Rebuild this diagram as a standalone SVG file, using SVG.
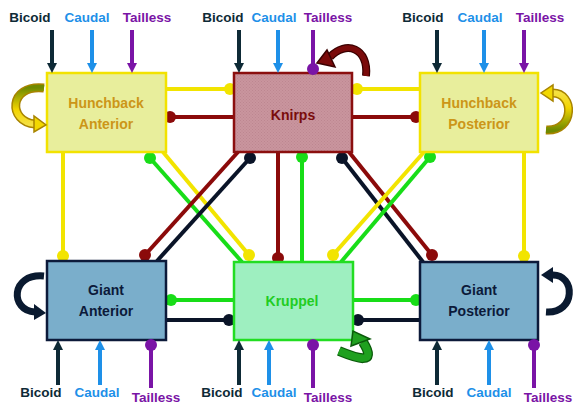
<svg xmlns="http://www.w3.org/2000/svg" width="576" height="405" viewBox="0 0 576 405">
  <style>
    .lbl { font-family: "Liberation Sans", Arial, sans-serif; font-weight: bold; font-size: 13.5px; text-anchor: middle; }
    .lbl.bic { fill: #0e2a36; }
    .lbl.cau { fill: #1e90e8; }
    .lbl.tai { fill: #7a14a6; }
    .name { font-family: "Liberation Sans", Arial, sans-serif; font-weight: bold; font-size: 14px; text-anchor: middle; }
    .hb rect { fill: #e8ee9c; stroke: #f2e200; stroke-width: 2.5; }
    .hb .name { fill: #cc9618; }
    .kni rect { fill: url(#hatch); stroke: #8b0f0f; stroke-width: 2.5; }
    .kni .name { fill: #7a0c0c; }
    .gia rect { fill: #7aaecb; stroke: #0c1a3a; stroke-width: 2.5; }
    .gia .name { fill: #0c1a3a; }
    .kru rect { fill: #9eefc0; stroke: #22dd22; stroke-width: 2.5; }
    .kru .name { fill: #22cc22; }
    .ln { fill: none; stroke-width: 4; }
    .y { stroke: #f2e400; } .yf { fill: #f2e400; }
    .r { stroke: #8b0a0a; } .rf { fill: #8b0a0a; }
    .n { stroke: #0a1428; } .nf { fill: #0a1428; }
    .g { stroke: #18dd18; } .gf { fill: #18dd18; }
    .in { fill: none; stroke-width: 4; }
    .sb { stroke: #0e2a36; } .sc { stroke: #1e90e8; } .st { stroke: #7a14a6; }
  </style>
  <defs>
    <pattern id="hatch" width="3" height="3" patternUnits="userSpaceOnUse">
      <rect width="3" height="3" fill="#c9959e"/>
      <rect width="1" height="1" fill="#bd8690"/>
      <rect x="1.5" y="1.5" width="1" height="1" fill="#bd8690"/>
    </pattern>
    <marker id="mB" viewBox="0 0 10 10" refX="0" refY="5" markerWidth="10" markerHeight="10" markerUnits="userSpaceOnUse" orient="auto">
      <path d="M0,0 L10,5 L0,10 z" fill="#0e2a36"/>
    </marker>
    <marker id="mC" viewBox="0 0 10 10" refX="0" refY="5" markerWidth="10" markerHeight="10" markerUnits="userSpaceOnUse" orient="auto">
      <path d="M0,0 L10,5 L0,10 z" fill="#1e90e8"/>
    </marker>
    <marker id="mT" viewBox="0 0 10 10" refX="0" refY="5" markerWidth="10" markerHeight="10" markerUnits="userSpaceOnUse" orient="auto">
      <path d="M0,0 L10,5 L0,10 z" fill="#7a14a6"/>
    </marker>
    <linearGradient id="gYdown" x1="0" y1="0" x2="0" y2="1">
      <stop offset="0" stop-color="#6f8a00"/>
      <stop offset="0.6" stop-color="#f2d400"/>
      <stop offset="1" stop-color="#f5e040"/>
    </linearGradient>
    <linearGradient id="gYup" x1="0" y1="0" x2="0" y2="1">
      <stop offset="0" stop-color="#f5e040"/>
      <stop offset="0.4" stop-color="#f2d400"/>
      <stop offset="1" stop-color="#6f8a00"/>
    </linearGradient>
  </defs>

  <rect width="576" height="405" fill="#ffffff"/>

  <!-- regulatory connectors between genes -->
  <g id="connectors">
    <!-- Hunchback Anterior <-> Knirps -->
    <line class="ln y" x1="166" y1="89" x2="230" y2="89"/>
    <circle class="yf" cx="230" cy="89" r="6"/>
    <line class="ln r" x1="170" y1="117" x2="234" y2="117"/>
    <circle class="rf" cx="170" cy="117" r="6"/>
    <!-- Hunchback Posterior <-> Knirps -->
    <line class="ln y" x1="357" y1="89" x2="420" y2="89"/>
    <circle class="yf" cx="357" cy="89" r="6"/>
    <line class="ln r" x1="352" y1="117" x2="416" y2="117"/>
    <circle class="rf" cx="416" cy="117" r="6"/>
    <!-- Hunchback -> Giant verticals -->
    <line class="ln y" x1="63" y1="152" x2="63" y2="256"/>
    <circle class="yf" cx="63" cy="256" r="6"/>
    <line class="ln y" x1="524" y1="152" x2="524" y2="256"/>
    <circle class="yf" cx="524" cy="256" r="6"/>
    <!-- left cross -->
    <line class="ln y" x1="163" y1="152" x2="249" y2="255"/>
    <circle class="yf" cx="249" cy="255" r="6"/>
    <line class="ln g" x1="150" y1="158" x2="242" y2="262"/>
    <circle class="gf" cx="150" cy="158" r="6"/>
    <line class="ln r" x1="238" y1="152" x2="145" y2="255"/>
    <circle class="rf" cx="145" cy="255" r="6"/>
    <line class="ln n" x1="250" y1="158" x2="157" y2="261"/>
    <circle class="nf" cx="250" cy="158" r="6"/>
    <!-- Knirps <-> Kruppel -->
    <line class="ln r" x1="278" y1="152" x2="278" y2="258"/>
    <circle class="rf" cx="278" cy="258" r="6"/>
    <line class="ln g" x1="302" y1="157" x2="302" y2="262"/>
    <circle class="gf" cx="302" cy="157" r="6"/>
    <!-- right cross -->
    <line class="ln r" x1="349" y1="152" x2="432" y2="255"/>
    <circle class="rf" cx="432" cy="255" r="6"/>
    <line class="ln n" x1="342" y1="158" x2="423" y2="262"/>
    <circle class="nf" cx="342" cy="158" r="6"/>
    <line class="ln y" x1="424" y1="152" x2="333" y2="255"/>
    <circle class="yf" cx="333" cy="255" r="6"/>
    <line class="ln g" x1="430" y1="157" x2="341" y2="262"/>
    <circle class="gf" cx="430" cy="157" r="6"/>
    <!-- Giant <-> Kruppel horizontals -->
    <line class="ln g" x1="171" y1="300" x2="234" y2="300"/>
    <circle class="gf" cx="171" cy="300" r="6"/>
    <line class="ln n" x1="166" y1="320" x2="229" y2="320"/>
    <circle class="nf" cx="229" cy="320" r="6"/>
    <line class="ln g" x1="353" y1="300" x2="416" y2="300"/>
    <circle class="gf" cx="416" cy="300" r="6"/>
    <line class="ln n" x1="358" y1="320" x2="420" y2="320"/>
    <circle class="nf" cx="358" cy="320" r="6"/>
  </g>

  <!-- Hunchback Anterior -->
  <g id="hb-anterior" class="hb">
    <rect x="47" y="73" width="119" height="79"/>
    <text class="name" x="106" y="108">Hunchback</text>
    <text class="name" x="106" y="129">Anterior</text>
    <text class="lbl bic" x="30" y="22">Bicoid</text>
    <text class="lbl cau" x="87" y="22">Caudal</text>
    <text class="lbl tai" x="147" y="22">Tailless</text>
    <line class="in sb" x1="52" y1="30" x2="52" y2="63" marker-end="url(#mB)"/>
    <line class="in sc" x1="92" y1="30" x2="92" y2="63" marker-end="url(#mC)"/>
    <line class="in st" x1="132" y1="30" x2="132" y2="63" marker-end="url(#mT)"/>
    <path d="M44 88 C 8 84, 8 122, 35 124" fill="none" stroke="#a88400" stroke-width="9"/>
    <path d="M44 88 C 8 84, 8 122, 35 124" fill="none" stroke="url(#gYdown)" stroke-width="6"/>
    <polygon points="34,116 34,132 46,125" fill="#f2d800" stroke="#a88400" stroke-width="1.5"/>
  </g>

  <!-- Knirps -->
  <g id="knirps" class="kni">
    <rect x="234" y="73" width="118" height="79"/>
    <text class="name" x="293" y="120">Knirps</text>
    <text class="lbl bic" x="223" y="22">Bicoid</text>
    <text class="lbl cau" x="274" y="22">Caudal</text>
    <text class="lbl tai" x="328" y="22">Tailless</text>
    <line class="in sb" x1="239" y1="30" x2="239" y2="63" marker-end="url(#mB)"/>
    <line class="in sc" x1="278" y1="30" x2="278" y2="63" marker-end="url(#mC)"/>
    <line class="in st" x1="313" y1="30" x2="313" y2="69"/>
    <circle cx="313" cy="69" r="6" fill="#7a14a6"/>
    <path d="M366 76 C 369 48, 346 40, 330 57" fill="none" stroke="#3a0000" stroke-width="8"/>
    <path d="M366 76 C 369 48, 346 40, 330 57" fill="none" stroke="#7a0a0a" stroke-width="5.5"/>
    <polygon points="317,63 327,50 335,67" fill="#7a0a0a" stroke="#3a0000" stroke-width="1.5"/>
  </g>

  <!-- Hunchback Posterior -->
  <g id="hb-posterior" class="hb">
    <rect x="420" y="73" width="118" height="79"/>
    <text class="name" x="479" y="108">Hunchback</text>
    <text class="name" x="479" y="129">Posterior</text>
    <text class="lbl bic" x="423" y="22">Bicoid</text>
    <text class="lbl cau" x="480" y="22">Caudal</text>
    <text class="lbl tai" x="540" y="22">Tailless</text>
    <line class="in sb" x1="437" y1="30" x2="437" y2="63" marker-end="url(#mB)"/>
    <line class="in sc" x1="484" y1="30" x2="484" y2="63" marker-end="url(#mC)"/>
    <line class="in st" x1="524" y1="30" x2="524" y2="63" marker-end="url(#mT)"/>
    <path d="M546 130 C 575 132, 575 92, 552 93" fill="none" stroke="#a88400" stroke-width="9"/>
    <path d="M546 130 C 575 132, 575 92, 552 93" fill="none" stroke="url(#gYup)" stroke-width="6"/>
    <polygon points="553,85 553,101 541,93" fill="#f2d800" stroke="#a88400" stroke-width="1.5"/>
  </g>

  <!-- Giant Anterior -->
  <g id="giant-anterior" class="gia">
    <rect x="47" y="261" width="119" height="79"/>
    <text class="name" x="106" y="295">Giant</text>
    <text class="name" x="106" y="316">Anterior</text>
    <text class="lbl bic" x="41" y="397">Bicoid</text>
    <text class="lbl cau" x="97" y="397">Caudal</text>
    <text class="lbl tai" x="156" y="402">Tailless</text>
    <line class="in sb" x1="58" y1="385" x2="58" y2="350" marker-end="url(#mB)"/>
    <line class="in sc" x1="100" y1="385" x2="100" y2="350" marker-end="url(#mC)"/>
    <line class="in st" x1="151" y1="388" x2="151" y2="345"/>
    <circle cx="151" cy="345" r="6" fill="#7a14a6"/>
    <path d="M44 276 C 10 273, 10 311, 35 312" fill="none" stroke="#0a1a30" stroke-width="7"/>
    <polygon points="34,304 34,320 46,313" fill="#0a1a30"/>
  </g>

  <!-- Kruppel -->
  <g id="kruppel" class="kru">
    <rect x="234" y="262" width="119" height="78"/>
    <text class="name" x="292" y="306">Kruppel</text>
    <text class="lbl bic" x="222" y="397">Bicoid</text>
    <text class="lbl cau" x="274" y="397">Caudal</text>
    <text class="lbl tai" x="328" y="402">Tailless</text>
    <line class="in sb" x1="239" y1="385" x2="239" y2="350" marker-end="url(#mB)"/>
    <line class="in sc" x1="269" y1="385" x2="269" y2="350" marker-end="url(#mC)"/>
    <line class="in st" x1="313" y1="388" x2="313" y2="345"/>
    <circle cx="313" cy="345" r="6" fill="#7a14a6"/>
    <path d="M339 351 C 356 358, 378 366, 363 342" fill="none" stroke="#0a5a0a" stroke-width="10"/>
    <path d="M339 351 C 356 358, 378 366, 363 342" fill="none" stroke="#1fa01f" stroke-width="7.5"/>
    <polygon points="353,331 351,346 370,339" fill="#1fa01f" stroke="#0a5a0a" stroke-width="1.5"/>
  </g>

  <!-- Giant Posterior -->
  <g id="giant-posterior" class="gia">
    <rect x="420" y="262" width="118" height="78"/>
    <text class="name" x="479" y="295">Giant</text>
    <text class="name" x="479" y="316">Posterior</text>
    <text class="lbl bic" x="433" y="397">Bicoid</text>
    <text class="lbl cau" x="489" y="397">Caudal</text>
    <text class="lbl tai" x="548" y="402">Tailless</text>
    <line class="in sb" x1="437" y1="385" x2="437" y2="350" marker-end="url(#mB)"/>
    <line class="in sc" x1="489" y1="385" x2="489" y2="350" marker-end="url(#mC)"/>
    <line class="in st" x1="534" y1="388" x2="534" y2="345"/>
    <circle cx="534" cy="345" r="6" fill="#7a14a6"/>
    <path d="M546 312 C 576 314, 576 274, 552 275" fill="none" stroke="#0a1a30" stroke-width="7"/>
    <polygon points="553,267 553,283 541,275" fill="#0a1a30"/>
  </g>
</svg>
